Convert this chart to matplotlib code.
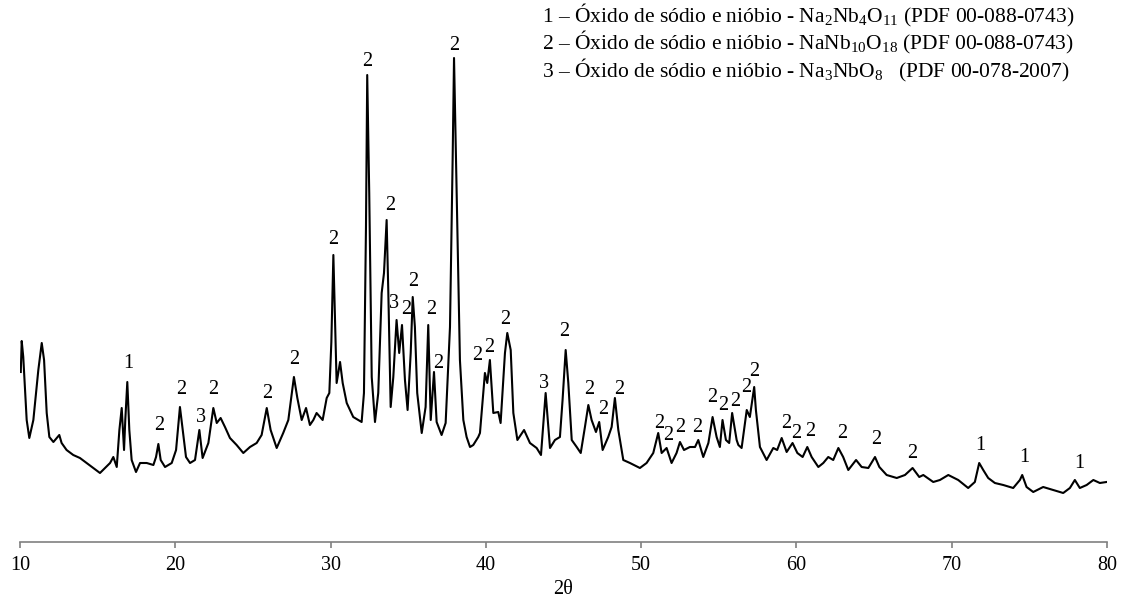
import matplotlib
matplotlib.use("Agg")
import matplotlib.pyplot as plt

# ---- data (2theta, intensity in arbitrary units) ----
two_theta = [10.05, 10.11, 10.21, 10.43, 10.60, 10.86, 11.18, 11.40, 11.55, 11.72, 11.89, 12.15,
             12.53, 12.68, 13.00, 13.43, 13.86, 14.29, 14.72, 15.15, 15.47, 15.80, 16.01, 16.23,
             16.40, 16.55, 16.70, 16.78, 16.91, 17.04, 17.19, 17.47, 17.73, 18.16, 18.59, 18.76,
             18.91, 19.06, 19.34, 19.77, 20.05, 20.30, 20.48, 20.69, 20.95, 21.27, 21.55, 21.76,
             22.13, 22.45, 22.67, 22.92, 23.20, 23.52, 23.95, 24.38, 24.81, 25.24, 25.56, 25.89,
             26.14, 26.53, 26.95, 27.28, 27.64, 27.86, 28.14, 28.42, 28.67, 28.89, 29.10, 29.49,
             29.75, 29.92, 30.05, 30.18, 30.39, 30.61, 30.78, 31.04, 31.46, 32.00, 32.15, 32.28,
             32.36, 32.49, 32.65, 32.86, 33.07, 33.29, 33.44, 33.61, 33.72, 33.87, 34.04, 34.25,
             34.42, 34.60, 34.79, 34.96, 35.16, 35.29, 35.43, 35.58, 35.87, 36.12, 36.29, 36.45,
             36.66, 36.83, 37.15, 37.41, 37.69, 37.86, 37.95, 38.12, 38.33, 38.55, 38.76, 38.98,
             39.19, 39.51, 39.62, 39.94, 40.09, 40.26, 40.48, 40.80, 40.95, 41.23, 41.38, 41.60,
             41.77, 42.03, 42.46, 42.84, 43.27, 43.55, 43.85, 44.13, 44.45, 44.77, 44.94, 45.14,
             45.31, 45.53, 45.85, 46.11, 46.38, 46.60, 46.81, 47.09, 47.30, 47.52, 47.88, 48.10,
             48.31, 48.53, 48.85, 49.28, 49.92, 50.35, 50.78, 51.10, 51.32, 51.64, 51.96, 52.28,
             52.50, 52.76, 53.14, 53.47, 53.68, 54.00, 54.33, 54.60, 54.86, 55.07, 55.24, 55.46,
             55.67, 55.86, 56.15, 56.26, 56.47, 56.80, 57.00, 57.28, 57.39, 57.65, 58.08, 58.51,
             58.76, 59.05, 59.37, 59.75, 60.06, 60.40, 60.70, 60.98, 61.41, 61.73, 62.05, 62.37,
             62.70, 63.01, 63.34, 63.84, 64.20, 64.63, 65.06, 65.34, 65.81, 66.46, 66.99, 67.48,
             67.91, 68.17, 68.81, 69.24, 69.78, 70.42, 71.06, 71.49, 71.77, 72.03, 72.35, 72.78,
             73.32, 73.96, 74.39, 74.54, 74.82, 75.25, 75.89, 76.54, 77.18, 77.61, 77.93, 78.25,
             78.69, 79.12, 79.54, 79.97]
intensity = [170, 201, 185, 122, 104, 122, 172, 199, 182, 129, 105, 100,
             107, 99, 92, 87, 84, 79, 74, 69, 74, 79, 85, 75,
             112, 134, 92, 122, 160, 112, 82, 70, 79, 79, 77, 85,
             98, 82, 75, 79, 92, 135, 112, 85, 79, 82, 112, 84,
             99, 134, 119, 124, 115, 104, 97, 89, 95, 99, 107, 134,
             112, 94, 109, 122, 165, 144, 122, 134, 117, 122, 129, 122,
             144, 149, 200, 287, 159, 180, 159, 139, 125, 120, 149, 315,
             467, 349, 165, 120, 149, 249, 269, 322, 249, 135, 165, 222,
             189, 217, 162, 132, 189, 245, 215, 149, 109, 135, 217, 122,
             170, 120, 107, 119, 215, 382, 484, 349, 182, 122, 105, 95,
             97, 105, 109, 169, 159, 182, 129, 130, 119, 189, 209, 192,
             129, 102, 112, 99, 94, 87, 149, 94, 102, 105, 142, 192,
             159, 102, 95, 89, 115, 137, 122, 110, 120, 92, 105, 115,
             144, 112, 82, 79, 74, 79, 89, 109, 89, 94, 79, 89,
             100, 92, 95, 95, 102, 85, 99, 125, 105, 95, 122, 102,
             99, 129, 102, 97, 94, 132, 125, 155, 132, 95, 82, 94,
             92, 104, 90, 99, 89, 85, 95, 85, 75, 79, 85, 82,
             94, 85, 72, 82, 75, 74, 85, 75, 67, 64, 67, 74,
             65, 67, 60, 62, 67, 62, 54, 60, 79, 72, 64, 59,
             57, 54, 62, 67, 55, 50, 55, 52, 49, 54, 62, 54,
             57, 62, 59, 60]

# phase labels placed above peaks
peak_labels = ["1", "2", "2", "3", "2", "2", "2", "2", "2", "2", "3", "2", "2", "2", "2", "2",
               "2", "2", "2", "3", "2", "2", "2", "2", "2", "2", "2", "2", "2", "2", "2", "2",
               "2", "2", "2", "2", "2", "2", "2", "1", "1", "1"]
peak_label_x = [16.97, 18.97, 20.40, 21.64, 22.45, 25.92, 27.64, 30.17, 32.36, 33.83, 34.10, 34.85,
                35.33, 36.51, 36.90, 37.95, 39.47, 40.22, 41.25, 43.75, 45.03, 46.66, 47.56, 48.57,
                51.15, 51.71, 52.50, 53.64, 54.60, 55.30, 56.04, 56.75, 57.28, 59.37, 59.97, 60.91,
                62.97, 65.16, 67.47, 71.82, 74.67, 78.19]
peak_label_y = [179, 117, 152, 124, 153, 149, 183, 302, 480, 337, 239, 232,
                261, 232, 179, 497, 187, 195, 223, 159, 210, 153, 133, 153,
                119, 107, 115, 115, 144, 137, 141, 155, 170, 119, 108, 110,
                108, 102, 89, 97, 85, 79]

x_ticks = [10, 20, 30, 40, 50, 60, 70, 80]
x_label = "2θ"
legend_lines = [
    "1 – Óxido de sódio e nióbio - Na$_2$Nb$_4$O$_{11}$ (PDF 00-088-0743)",
    "2 – Óxido de sódio e nióbio - NaNb$_{10}$O$_{18}$ (PDF 00-088-0743)",
    "3 – Óxido de sódio e nióbio - Na$_3$NbO$_8$   (PDF 00-078-2007)",
]

plt.rcParams["font.family"] = ["Liberation Serif", "DejaVu Serif"]
plt.rcParams["mathtext.fontset"] = "custom"
plt.rcParams["mathtext.rm"] = "Liberation Serif"
plt.rcParams["mathtext.it"] = "Liberation Serif:italic"
plt.rcParams["mathtext.default"] = "regular"

W, H = 1131, 598
fig = plt.figure(figsize=(W / 100, H / 100), dpi=100)
ax = fig.add_axes([20 / W, 56 / H, 1087 / W, 542 / H])
ax.plot(two_theta, intensity, color="black", lw=1.5)
ax.set_xlim(10, 80)
ax.set_ylim(0, 542)

for s in ["left", "right", "top"]:
    ax.spines[s].set_visible(False)
ax.spines["bottom"].set_color("#808080")
ax.spines["bottom"].set_linewidth(1.2)
ax.set_yticks([])
ax.set_xticks(x_ticks)
ax.tick_params(axis="x", direction="out", length=4, width=1.2, color="#808080",
               labelsize=14.5, pad=6)
ax.set_xlabel(x_label, fontsize=14.5, labelpad=4)

for t, x, y in zip(peak_labels, peak_label_x, peak_label_y):
    ax.text(x, y, t, ha="center", va="center", fontsize=14.5)

for i, line in enumerate(legend_lines):
    fig.text(542 / W, 1 - (15 + 27.5 * i) / H, line, ha="left", va="center", fontsize=15.5)

fig.savefig("out.png", dpi=100)
